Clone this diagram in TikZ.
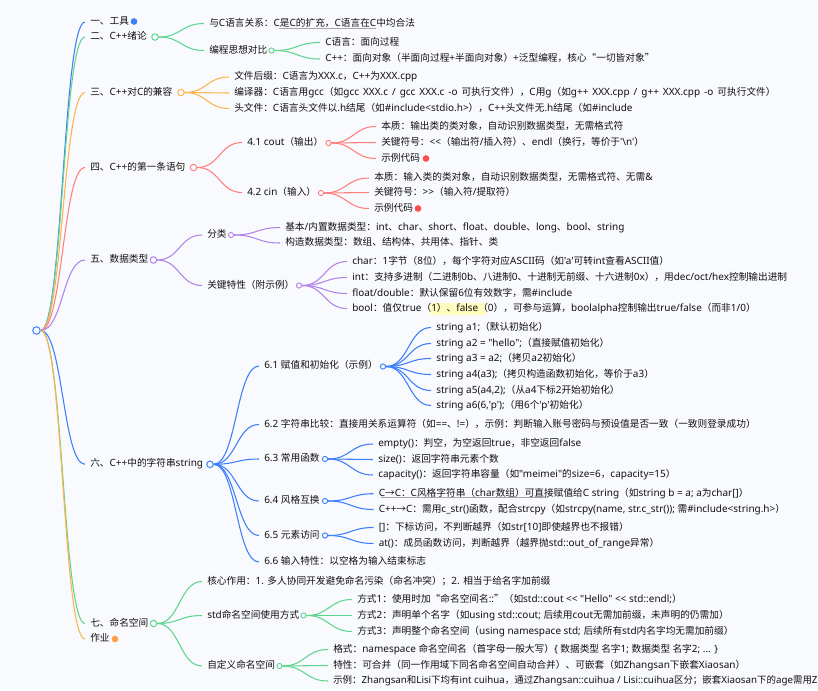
\documentclass[tikz,border=0pt]{standalone}
\usepackage{fontspec}
\usetikzlibrary{calc}
\setmainfont[Scale=1.03]{Noto Sans}
\newfontfamily\cjkf{Noto Sans CJK SC}
\newfontfamily\latf[Scale=1.03]{Noto Sans}
\XeTeXinterchartokenstate=1
\newXeTeXintercharclass\cjkclass
\makeatletter
\count@="3000
\loop\ifnum\count@<"A000 \XeTeXcharclass\count@=\cjkclass \advance\count@ by 1 \repeat
\count@="FF00
\loop\ifnum\count@<"FFF0 \XeTeXcharclass\count@=\cjkclass \advance\count@ by 1 \repeat
\XeTeXcharclass"201C=\cjkclass
\XeTeXcharclass"201D=\cjkclass
\XeTeXcharclass"2192=\cjkclass
\makeatother
\XeTeXinterchartoks 0 \cjkclass={\cjkf}
\XeTeXinterchartoks 4095 \cjkclass={\cjkf}
\XeTeXinterchartoks \cjkclass 0={\latf}
\XeTeXinterchartoks 4095 0={\latf}
\definecolor{bg}{HTML}{F9FAFD}
\definecolor{cb}{HTML}{3D7EFA}
\definecolor{cg}{HTML}{5FD68F}
\definecolor{co}{HTML}{FFB24D}
\definecolor{cr}{HTML}{FF7F7F}
\definecolor{cp}{HTML}{B283E8}
\definecolor{ink}{HTML}{111111}
\newcommand{\cv}[3]{\draw[#1,edgeline] (#2) .. controls ($(#2)!.5!(#3.west |- #2)$) and ($(#2 |- #3.west)!.5!(#3.west)$) .. (#3.west);}
\tikzset{
  x=0.75pt,y=-0.75pt,
  edgeline/.style={line width=0.8pt},
  txt/.style={anchor=west,inner ysep=0pt,inner xsep=3.75pt,text=ink,font=\fontsize{7.26pt}{8.6pt}\selectfont,text height=5.6pt,text depth=1.6pt},
  ring/.style={circle,draw=#1,fill=bg,line width=0.7pt,inner sep=0pt,minimum size=3.9pt},
  bigring/.style={circle,draw=#1,fill=bg,line width=0.75pt,inner sep=0pt,minimum size=4.9pt},
  mark dot/.style={circle,fill=#1,inner sep=0pt,minimum size=5pt},
}
\begin{document}
\begin{tikzpicture}
\useasboundingbox[fill=bg] (0,0) rectangle (818,690);
% decorations behind the text
\fill[yellow!25] (430,303) rectangle (486,315);
\draw[gray!70,line width=0.6pt] (279,28.7) -- (376,28.7);
\draw[gray!70,line width=0.6pt] (381,497.7) -- (548,497.7);
% root
\node[bigring=cb,minimum size=5.6pt] (root) at (36.5,330.5) {};
% level 1
\node[txt] (n1) at (85,22) {一、工具};
\node[mark dot=cb] (d1) at (134,21.5) {};
\node[txt] (n2) at (85,37) {二、C++绪论};
\node[bigring=cg] (c2) at (155,37) {};
\node[txt] (n3) at (85,92.5) {三、C++对C的兼容};
\node[bigring=co] (c3) at (181,92.5) {};
\node[txt] (n4) at (85,167.5) {四、C++的第一条语句};
\node[bigring=cr] (c4) at (193.5,167.5) {};
\node[txt] (n5) at (85,260) {五、数据类型};
\node[bigring=cp] (c5) at (153.5,260) {};
\node[txt] (n6) at (85,464.3) {六、C++中的字符串string};
\node[bigring=cb] (c6) at (210,464.3) {};
\node[txt] (n7) at (85,623.5) {七、命名空间};
\node[bigring=cg] (c7) at (153.5,623.5) {};
\node[txt] (n8) at (85,639) {作业};
\node[mark dot=co!90!red] (d8) at (115,639) {};
% section 2
\node[txt] (a1) at (204,23.5) {与C语言关系：C是C的扩充，C语言在C中均合法};
\node[txt] (a2) at (204,50.5) {编程思想对比};
\node[ring=cg] (ca2) at (271.5,50.5) {};
\node[txt] (a21) at (320,42.5) {C语言：面向过程};
\node[txt] (a22) at (320,59) {C++：面向对象（半面向过程+半面向对象）+泛型编程，核心“一切皆对象”};
% section 3
\node[txt] (b1) at (229,77) {\spaceskip=3pt\relax 文件后缀：C语言为XXX.c，C++为XXX.cpp};
\node[txt] (b2) at (229,93) {\spaceskip=3pt\relax 编译器：C语言用gcc（如gcc XXX.c / gcc XXX.c -o 可执行文件），C用g（如g++ XXX.cpp / g++ XXX.cpp -o 可执行文件）};
\node[txt] (b3) at (229,108.5) {头文件：C语言头文件以.h结尾（如\#include<stdio.h>），C++头文件无.h结尾（如\#include};
% section 4
\node[txt] (d41) at (242,142.5) {4.1 cout（输出）};
\node[ring=cr] (cd41) at (328.5,143) {};
\node[txt] (e1) at (376,126.5) {本质：输出类的类对象，自动识别数据类型，无需格式符};
\node[txt] (e2) at (376,142.5) {关键符号：<<（输出符/插入符）、endl（换行，等价于'\textbackslash n'）};
\node[txt] (e3) at (376,158.5) {示例代码};
\node[mark dot=red!70!white] (de3) at (426,158.5) {};
\node[txt] (d42) at (242,192.5) {4.2 cin（输入）};
\node[ring=cr] (cd42) at (321,193) {};
\node[txt] (f1) at (369,178) {本质：输入类的类对象，自动识别数据类型，无需格式符、无需\&};
\node[txt] (f2) at (369,192.5) {关键符号：>>（输入符/提取符）};
\node[txt] (f3) at (369,208.5) {示例代码};
\node[mark dot=red!70!white] (df3) at (418,208.5) {};
% section 5
\node[txt] (g1) at (202,235) {分类};
\node[ring=cp] (cg1) at (231,235) {};
\node[txt] (g11) at (280,227.5) {基本/内置数据类型：int、char、short、float、double、long、bool、string};
\node[txt] (g12) at (280,243) {构造数据类型：数组、结构体、共用体、指针、类};
\node[txt] (g2) at (202,285.5) {关键特性（附示例）};
\node[ring=cp] (cg2) at (299,285.5) {};
\node[txt] (g21) at (347,261.5) {char：1字节（8位），每个字符对应ASCII码（如'a'可转int查看ASCII值）};
\node[txt] (g22) at (347,277.5) {int：支持多进制（二进制0b、八进制0、十进制无前缀、十六进制0x），用dec/oct/hex控制输出进制};
\node[txt] (g23) at (347,293.5) {float/double：默认保留6位有效数字，需\#include};
\node[txt] (g24) at (347,308.5) {bool：值仅true（1）、false（0），可参与运算，boolalpha控制输出true/false（而非1/0）};
% section 6
\node[txt] (h1) at (259,366) {6.1 赋值和初始化（示例）};
\node[ring=cb] (ch1) at (383,366.5) {};
\node[txt] (h11) at (431,327.5) {string a1;（默认初始化）};
\node[txt] (h12) at (431,343.5) {string a2 = "hello";（直接赋值初始化）};
\node[txt] (h13) at (431,358.5) {string a3 = a2;（拷贝a2初始化）};
\node[txt] (h14) at (431,374.5) {string a4(a3);（拷贝构造函数初始化，等价于a3）};
\node[txt] (h15) at (431,390.5) {string a5(a4,2);（从a4下标2开始初始化）};
\node[txt] (h16) at (431,405.5) {string a6(6,'p');（用6个'p'初始化）};
\node[txt] (h2) at (259,424.5) {6.2 字符串比较：直接用关系运算符（如==、!=），示例：判断输入账号密码与预设值是否一致（一致则登录成功）};
\node[txt] (h3) at (259,459) {6.3 常用函数};
\node[ring=cb] (ch3) at (325,459) {};
\node[txt] (h31) at (373,444) {empty()：判空，为空返回true，非空返回false};
\node[txt] (h32) at (373,459.5) {size()：返回字符串元素个数};
\node[txt] (h33) at (373,475) {capacity()：返回字符串容量（如"meimei"的size=6，capacity=15）};
\node[txt] (h4) at (259,501) {6.4 风格互换};
\node[ring=cb] (ch4) at (325,501) {};
\node[txt] (h41) at (373.5,493.7) {C→C：C风格字符串（char数组）可直接赋值给C string（如string b = a; a为char[]）};
\node[txt] (h42) at (373.5,509.5) {C++→C：需用c\_str()函数，配合strcpy（如strcpy(name, str.c\_str()); 需\#include<string.h>）};
\node[txt] (h5) at (259,535.5) {6.5 元素访问};
\node[ring=cb] (ch5) at (325,535.5) {};
\node[txt] (h51) at (373.5,527.5) {[]：下标访问，不判断越界（如str[10]即使越界也不报错）};
\node[txt] (h52) at (373.5,543.5) {at()：成员函数访问，判断越界（越界抛std::out\_of\_range异常）};
\node[txt] (h6) at (259,562) {6.6 输入特性：以空格为输入结束标志};
% section 7
\node[txt] (k1) at (202,581.5) {核心作用：1. 多人协同开发避免命名污染（命名冲突）；2. 相当于给名字加前缀};
\node[txt] (k2) at (202,615.5) {std命名空间使用方式};
\node[ring=cg] (ck2) at (303.5,615.5) {};
\node[txt] (k21) at (352,599.5) {方式1：使用时加“命名空间名::”（如std::cout << "Hello" << std::endl;）};
\node[txt] (k22) at (352,615.5) {方式2：声明单个名字（如using std::cout; 后续用cout无需加前缀，未声明的仍需加）};
\node[txt] (k23) at (352,631.5) {方式3：声明整个命名空间（using namespace std; 后续所有std内名字均无需加前缀）};
\node[txt] (k3) at (202,666) {自定义命名空间};
\node[ring=cg] (ck3) at (279.5,666) {};
\node[txt] (k31) at (328,649.5) {格式：namespace 命名空间名（首字母一般大写）\{ 数据类型 名字1; 数据类型 名字2; ... \}};
\node[txt] (k32) at (328,665.5) {特性：可合并（同一作用域下同名命名空间自动合并）、可嵌套（如Zhangsan下嵌套Xiaosan）};
\node[txt,font=\fontsize{7.1pt}{8.6pt}\selectfont] (k33) at (328,681) {示例：Zhangsan和Lisi下均有int cuihua，通过Zhangsan::cuihua / Lisi::cuihua区分；嵌套Xiaosan下的age需用Z};
% connectors
\foreach \t/\c in {n1/cb,n2/cg,n3/co,n4/cr,n5/cp,n6/cb,n7/cg,n8/co}{\cv{\c}{root.east}{\t}}
\foreach \t in {a1,a2}{\cv{cg}{c2.east}{\t}}
\foreach \t in {a21,a22}{\cv{cg}{ca2.east}{\t}}
\foreach \t in {b1,b2,b3}{\cv{co}{c3.east}{\t}}
\foreach \t in {d41,d42}{\cv{cr}{c4.east}{\t}}
\foreach \t in {e1,e2,e3}{\cv{cr}{cd41.east}{\t}}
\foreach \t in {f1,f2,f3}{\cv{cr}{cd42.east}{\t}}
\foreach \t in {g1,g2}{\cv{cp}{c5.east}{\t}}
\foreach \t in {g11,g12}{\cv{cp}{cg1.east}{\t}}
\foreach \t in {g21,g22,g23,g24}{\cv{cp}{cg2.east}{\t}}
\foreach \t in {h1,h2,h3,h4,h5,h6}{\cv{cb}{c6.east}{\t}}
\foreach \t in {h11,h12,h13,h14,h15,h16}{\cv{cb}{ch1.east}{\t}}
\foreach \t in {h31,h32,h33}{\cv{cb}{ch3.east}{\t}}
\foreach \t in {h41,h42}{\cv{cb}{ch4.east}{\t}}
\foreach \t in {h51,h52}{\cv{cb}{ch5.east}{\t}}
\foreach \t in {k1,k2,k3}{\cv{cg}{c7.east}{\t}}
\foreach \t in {k21,k22,k23}{\cv{cg}{ck2.east}{\t}}
\foreach \t in {k31,k32,k33}{\cv{cg}{ck3.east}{\t}}
\end{tikzpicture}
\end{document}
